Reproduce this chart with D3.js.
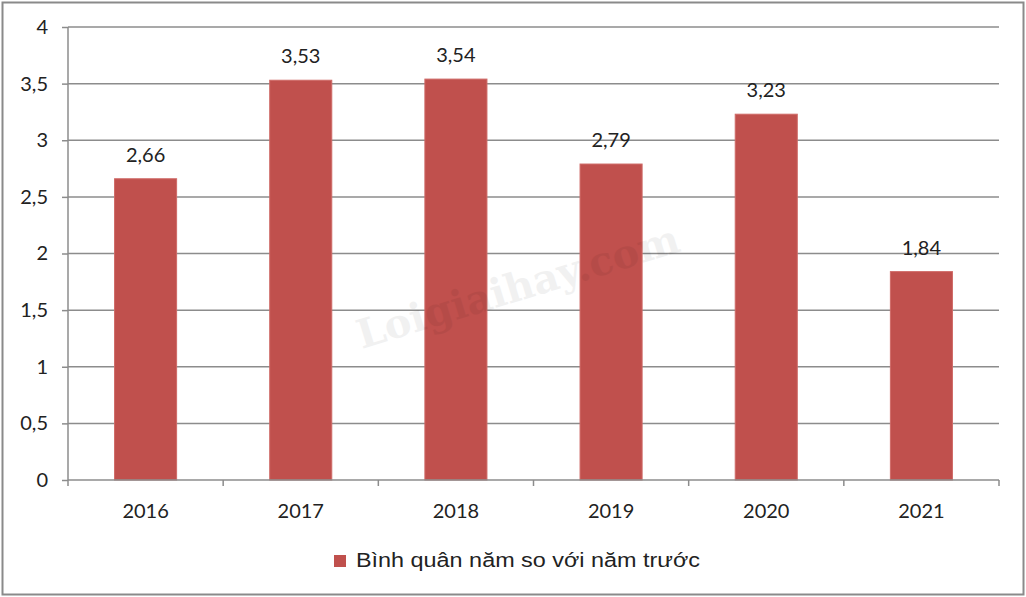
<!DOCTYPE html>
<html>
<head>
<meta charset="utf-8">
<script src="https://cdn.jsdelivr.net/npm/d3@7"></script>
<style>
  body { margin: 0; background: #fff; }
  text { fill: #222; }
</style>
</head>
<body>
<div id="chart"></div>
<script>
// dữ liệu
const years = ["2016", "2017", "2018", "2019", "2020", "2021"];
const values = [2.66, 3.53, 3.54, 2.79, 3.23, 1.84];
const yTicks = [0, 0.5, 1, 1.5, 2, 2.5, 3, 3.5, 4];
const seriesName = "Bình quân năm so với năm trước";

const W = 1026, H = 597;
const margin = { top: 27, right: 27, bottom: 117, left: 68 };
const width = W - margin.left - margin.right;
const height = H - margin.top - margin.bottom;
const fmt = v => String(v).replace(".", ",");
const font = "Lato, 'Open Sans', sans-serif";

const svg = d3.select("#chart").append("svg")
  .attr("width", W).attr("height", H);

// khung ngoài
svg.append("rect")
  .attr("x", 2.5).attr("y", 2.5)
  .attr("width", W - 5).attr("height", H - 5)
  .attr("fill", "#fff").attr("stroke", "#8a8a8a").attr("stroke-width", 2);

const g = svg.append("g")
  .attr("transform", `translate(${margin.left},${margin.top})`);

const x = d3.scaleBand().domain(years).range([0, width])
  .paddingInner(0.6).paddingOuter(0.3);
const y = d3.scaleLinear().domain([0, 4]).range([height, 0]);

// lưới ngang
g.append("g").selectAll("line")
  .data(yTicks.filter(d => d > 0))
  .join("line")
  .attr("x1", 0).attr("x2", width)
  .attr("y1", d => y(d)).attr("y2", d => y(d))
  .attr("stroke", "#8c8c8c").attr("stroke-width", 1.5);

// cột
g.append("g").selectAll("rect")
  .data(values)
  .join("rect")
  .attr("x", (d, i) => x(years[i]))
  .attr("y", d => y(d))
  .attr("width", x.bandwidth())
  .attr("height", d => height - y(d))
  .attr("fill", "#c0504d")
  .attr("stroke", "#cf6a67").attr("stroke-width", 1);

// nhãn giá trị
g.append("g").selectAll("text")
  .data(values)
  .join("text")
  .attr("x", (d, i) => x(years[i]) + x.bandwidth() / 2)
  .attr("y", d => y(d) - 17)
  .attr("text-anchor", "middle")
  .style("font-family", font)
  .style("font-size", "20px")
  .text(d => fmt(d));

// trục y
const yAxis = g.append("g")
  .call(d3.axisLeft(y).tickValues(yTicks).tickSize(6).tickPadding(14).tickFormat(fmt));
yAxis.select(".domain").attr("stroke", "#8c8c8c").attr("stroke-width", 1.5)
  .attr("d", `M0,${height}V0`);
yAxis.selectAll(".tick line").attr("stroke", "#8c8c8c").attr("stroke-width", 1.5);
yAxis.selectAll(".tick text")
  .style("font-family", font)
  .style("font-size", "20px").style("fill", "#222");

// trục x
const xAxis = g.append("g")
  .attr("transform", `translate(0,${height})`)
  .call(d3.axisBottom(x).tickSize(0).tickPadding(24));
xAxis.select(".domain").attr("stroke", "#8c8c8c").attr("stroke-width", 1.5)
  .attr("d", `M0,0H${width}`);
xAxis.selectAll(".tick text")
  .style("font-family", font)
  .style("font-size", "20px").style("fill", "#222");
// vạch chia giữa các nhóm
xAxis.append("g").selectAll("line")
  .data(d3.range(years.length + 1))
  .join("line")
  .attr("x1", i => i * x.step()).attr("x2", i => i * x.step())
  .attr("y1", 0).attr("y2", 6)
  .attr("stroke", "#8c8c8c").attr("stroke-width", 1.5);

// watermark
svg.append("text")
  .attr("transform", "translate(522,300) rotate(-17)")
  .attr("text-anchor", "middle")
  .style("font-family", "'DejaVu Serif', serif")
  .style("font-weight", "bold")
  .style("font-size", "40px")
  .style("fill", "#000")
  .style("opacity", 0.05)
  .text("Loigiaihay.com");

// chú giải
const legend = svg.append("g").attr("transform", "translate(334,555)");
legend.append("rect")
  .attr("width", 12).attr("height", 12)
  .attr("fill", "#c0504d");
legend.append("text")
  .attr("x", 22).attr("y", 12)
  .attr("textLength", 344).attr("lengthAdjust", "spacingAndGlyphs")
  .style("font-family", "'Liberation Sans', Arial, sans-serif")
  .style("font-size", "20px")
  .text(seriesName);
</script>
</body>
</html>
